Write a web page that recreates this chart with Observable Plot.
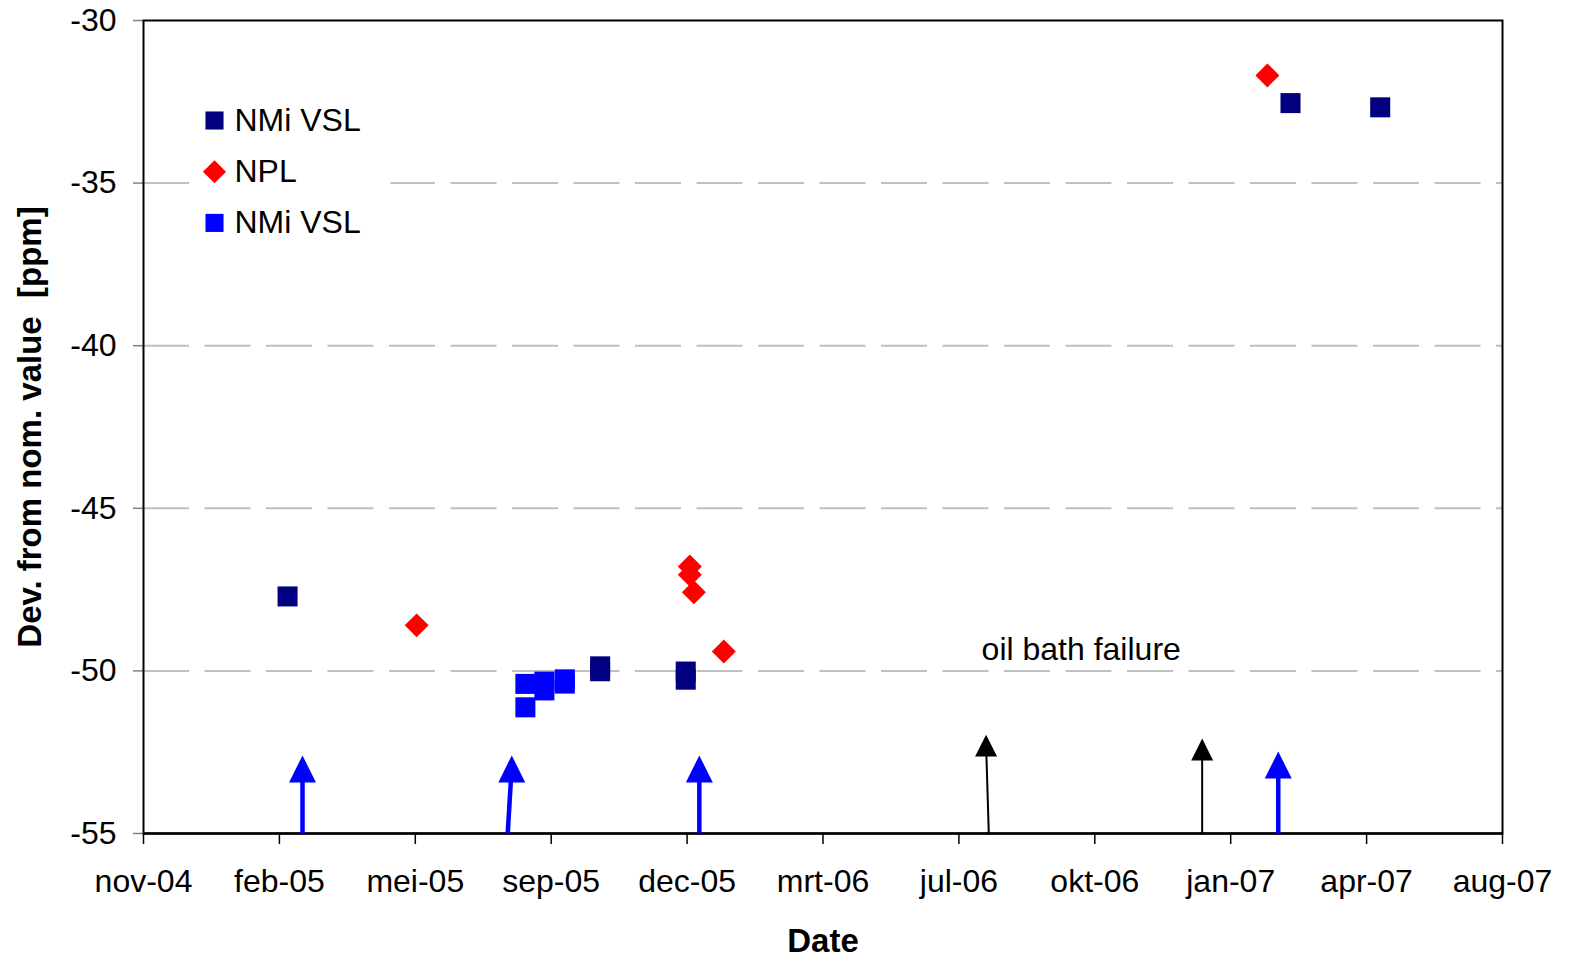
<!DOCTYPE html>
<html>
<head>
<meta charset="utf-8">
<script src="https://cdn.jsdelivr.net/npm/d3@7"></script>
<script src="https://cdn.jsdelivr.net/npm/@observablehq/plot@0.6"></script>
<style>
  html, body { margin: 0; padding: 0; background: #ffffff; }
  svg { display: block; }
  svg text { white-space: pre; }
</style>
</head>
<body>
<div id="chart"></div>
<script>
// ---------- data ----------
const seriesNames = ["NMi VSL", "NPL", "NMi VSL"];

const vslDates  = ["2005-02-23", "2005-10-11", "2005-10-11", "2005-12-13", "2005-12-13", "2007-03-03", "2007-05-08"];
const vslValues = [-47.71, -49.86, -50.01, -50.02, -50.27, -32.54, -32.67];

const nplDates  = ["2005-05-29", "2005-12-16", "2005-12-16", "2005-12-19", "2006-01-10", "2007-02-14"];
const nplValues = [-48.60, -46.79, -47.04, -47.58, -49.40, -31.69];

const vsl2Dates  = ["2005-08-17", "2005-08-17", "2005-08-31", "2005-08-31", "2005-09-15", "2005-09-15"];
const vsl2Values = [-50.40, -51.12, -50.33, -50.60, -50.26, -50.39];

// arrows: kind "calibration" (blue) or "failure" (black)
const arrowKinds     = ["calibration", "calibration", "calibration", "failure", "failure", "calibration"];
const arrowBaseDates = ["2005-03-06", "2005-08-04", "2005-12-23", "2006-07-24", "2006-12-28", "2007-02-22"];
const arrowTipDates  = ["2005-03-06", "2005-08-07", "2005-12-23", "2006-07-22", "2006-12-28", "2007-02-22"];
const arrowTipValues = [-52.60, -52.60, -52.60, -51.96, -52.08, -52.48];

const noteTexts  = ["oil bath failure"];
const noteDates  = ["2006-09-30"];
const noteValues = [-49.34];

const xDomain = ["2004-11-09", "2007-08-06"];
const xTickDates  = ["2004-11-09", "2005-02-17", "2005-05-28", "2005-09-05", "2005-12-14", "2006-03-24",
                     "2006-07-02", "2006-10-10", "2007-01-18", "2007-04-28", "2007-08-06"];
const xTickLabels = ["nov-04", "feb-05", "mei-05", "sep-05", "dec-05", "mrt-06",
                     "jul-06", "okt-06", "jan-07", "apr-07", "aug-07"];
const yDomain = [-55, -30];
const yTicks = [-55, -50, -45, -40, -35, -30];
const yGrid = [-50, -45, -40, -35];

const xTitle = "Date";
const yTitle = "Dev. from nom. value  [ppm]";

// ---------- build ----------
const parse = s => new Date(s + "T00:00:00Z");
const mk = (dates, values) => dates.map((d, i) => ({date: parse(d), value: values[i]}));
const vsl = mk(vslDates, vslValues);
const npl = mk(nplDates, nplValues);
const vsl2 = mk(vsl2Dates, vsl2Values);

const arrows = arrowKinds.map((k, i) => ({
  kind: k,
  x1: parse(arrowBaseDates[i]),
  x2: parse(arrowTipDates[i]),
  y1: yDomain[0],
  y2: arrowTipValues[i],
  shaftTop: arrowTipValues[i] - 0.3
}));
const blueArrows = arrows.filter(a => a.kind === "calibration");
const blackArrows = arrows.filter(a => a.kind === "failure");

const notes = noteTexts.map((t, i) => ({text: t, date: parse(noteDates[i]), value: noteValues[i]}));

const tickLabelByTime = new Map(xTickDates.map((d, i) => [+parse(d), xTickLabels[i]]));

// arrow head symbol: tip at origin, pointing up
const arrowHead = {
  draw(ctx, size) {
    const w = Math.sqrt(size);
    ctx.moveTo(0, 0);
    ctx.lineTo(w / 2, w);
    ctx.lineTo(-w / 2, w);
    ctx.closePath();
  }
};
// legend background
const legendBox = {
  draw(ctx) { ctx.rect(-100, -77, 200, 154); }
};

const NAVY = "#000080", RED = "#FF0000", BLUE = "#0000FF";
const FONT = 32;

const legendColors = [NAVY, RED, BLUE];
const legendSymbols = ["square", "diamond2", "square"];
const legendR = [10.2, 10.4, 10.2];

const legendMarks = [];
seriesNames.forEach((name, i) => {
  legendMarks.push(Plot.dot([name], {frameAnchor: "top-left", dx: 71, dy: 100 + i * 51.2,
    symbol: legendSymbols[i], fill: legendColors[i], r: legendR[i]}));
  legendMarks.push(Plot.text([name], {frameAnchor: "top-left", dx: 91, dy: 100 + i * 51.2,
    text: d => d, textAnchor: "start", lineAnchor: "middle", fontSize: FONT, fill: "black"}));
});

const chart = Plot.plot({
  width: 1573,
  height: 958,
  marginLeft: 143,
  marginRight: 71,
  marginTop: 20,
  marginBottom: 125,
  style: {fontFamily: "'Liberation Sans', Arial, Helvetica, sans-serif", background: "#ffffff", color: "black"},
  x: {type: "utc", domain: xDomain.map(parse), label: null},
  y: {domain: yDomain, label: null},
  marks: [
    Plot.ruleY(yGrid, {stroke: "#c0c0c0", strokeWidth: 2, strokeDasharray: "46,15.5"}),
    Plot.dot([0], {frameAnchor: "top-left", dx: 147, dy: 150, symbol: legendBox, fill: "white"}),
    Plot.axisY({ticks: yTicks, tickSize: 10, tickPadding: 17, stroke: "#808080", strokeWidth: 1.5,
      fill: "black", fontSize: FONT, tickFormat: d => String(d), label: null}),
    Plot.axisX({ticks: xTickDates.map(parse), tickSize: 11, tickPadding: 25, stroke: "black", strokeWidth: 1.5,
      fill: "black", fontSize: FONT, tickFormat: d => tickLabelByTime.get(+d), label: null}),
    Plot.frame({stroke: "black", strokeWidth: 2}),
    Plot.ruleY([yDomain[0]], {stroke: "black", strokeWidth: 2.5}),

    // arrows
    Plot.link(blueArrows, {x1: "x1", y1: "y1", x2: "x2", y2: "shaftTop", stroke: BLUE, strokeWidth: 4.5}),
    Plot.dot(blueArrows, {x: "x2", y: "y2", symbol: arrowHead, r: 15.2, fill: BLUE}),
    Plot.link(blackArrows, {x1: "x1", y1: "y1", x2: "x2", y2: "shaftTop", stroke: "black", strokeWidth: 2}),
    Plot.dot(blackArrows, {x: "x2", y: "y2", symbol: arrowHead, r: 12.4, fill: "black"}),

    // data
    Plot.dot(vsl, {x: "date", y: "value", symbol: "square", fill: NAVY, r: 11.3}),
    Plot.dot(npl, {x: "date", y: "value", symbol: "diamond2", fill: RED, r: 10.8}),
    Plot.dot(vsl2, {x: "date", y: "value", symbol: "square", fill: BLUE, r: 11.3}),

    // annotation
    Plot.text(notes, {x: "date", y: "value", text: "text", fontSize: FONT, fill: "black", textAnchor: "middle"}),

    ...legendMarks,

    // axis titles
    Plot.text([xTitle], {frameAnchor: "bottom", dy: 108, text: d => d, fontSize: 33, fontWeight: "bold",
      textAnchor: "middle", lineAnchor: "middle", fill: "black"}),
    Plot.text([yTitle], {frameAnchor: "left", dx: -113, rotate: -90, text: d => d, fontSize: 33,
      fontWeight: "bold", textAnchor: "middle", lineAnchor: "middle", fill: "black"})
  ]
});
document.getElementById("chart").appendChild(chart);
</script>
</body>
</html>
